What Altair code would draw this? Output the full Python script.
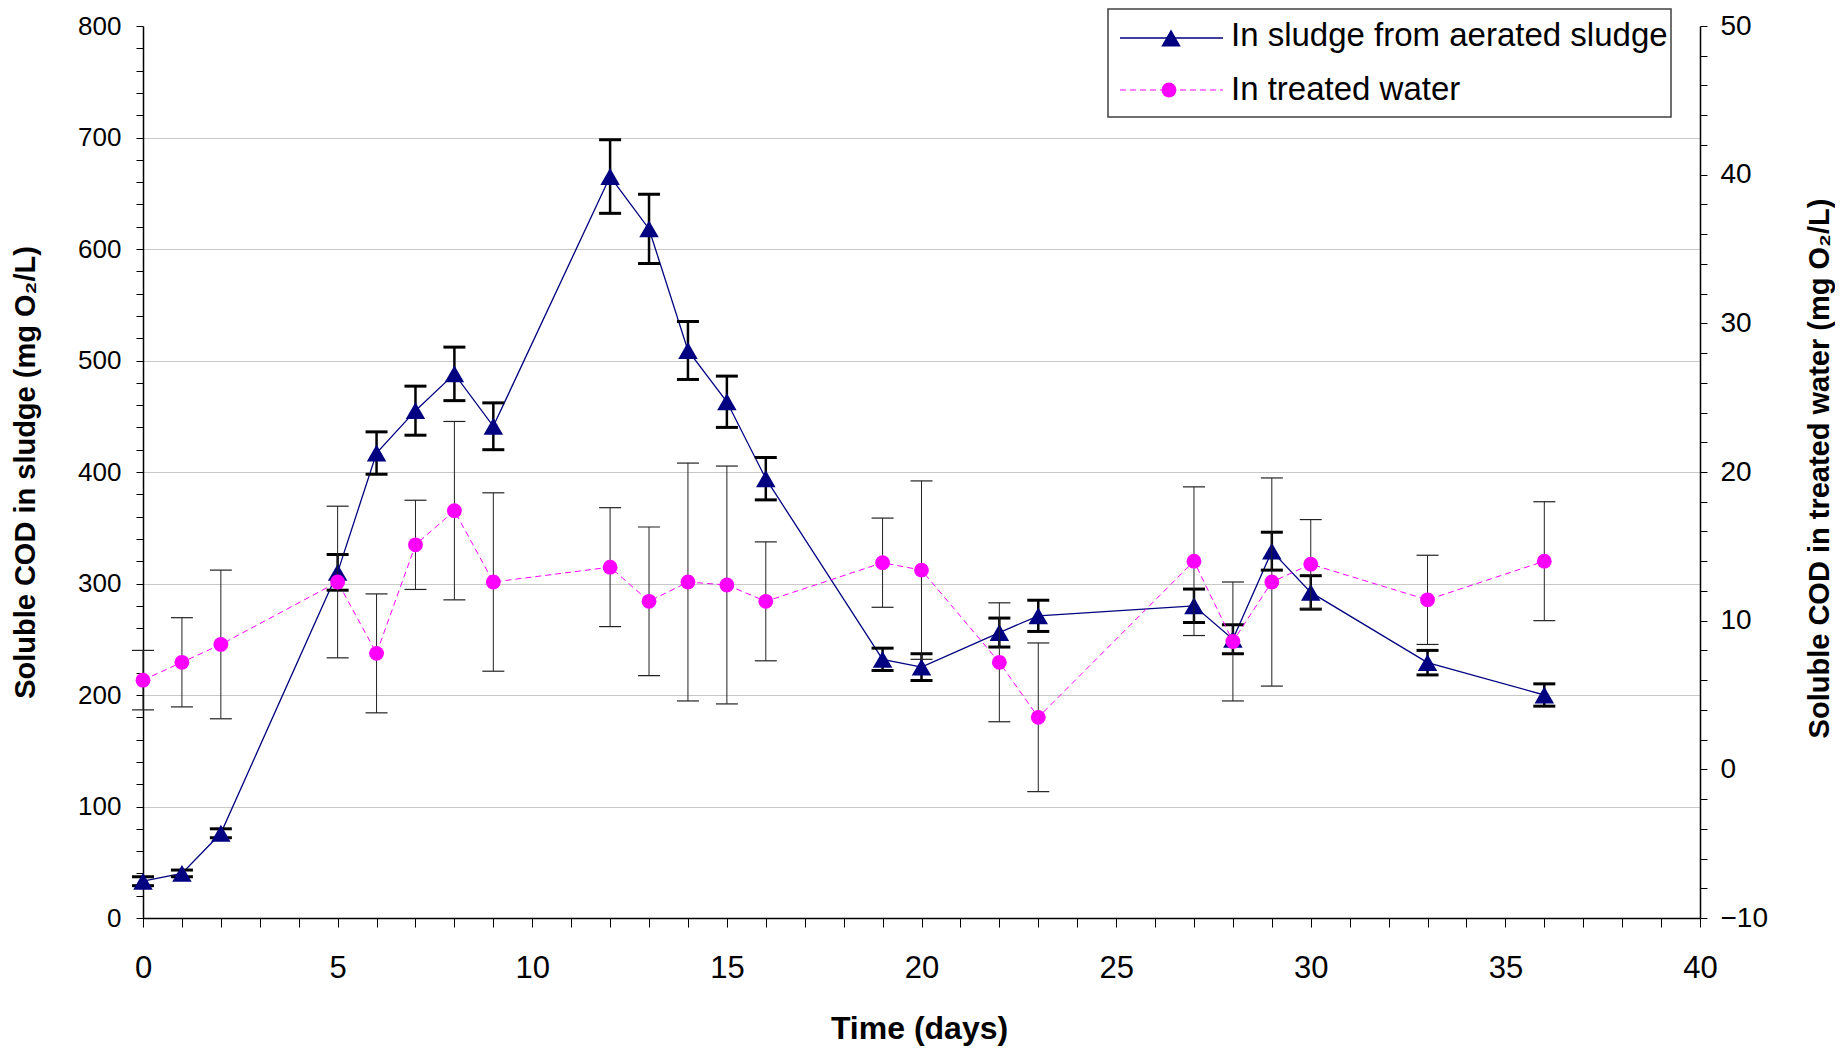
import altair as alt
import pandas as pd

# ---- data ----
days = [0, 1, 2, 5, 6, 7, 8, 9, 12, 13, 14, 15, 16, 19, 20, 22, 23, 27, 28, 29, 30, 33, 36]
sludge = [33, 40, 76, 310, 417, 455, 488, 441, 665, 618, 509, 463, 394, 232, 225, 256, 271, 280, 250, 329, 292, 229, 200]
sludge_err = [4, 3, 4, 16, 19, 22, 24, 21, 33, 31, 26, 23, 19, 10, 12, 13, 14, 15, 13, 17, 15, 11, 10]
water = [6.0, 7.2, 8.4, 12.6, 7.8, 15.1, 17.4, 12.6, 13.6, 11.3, 12.6, 12.4, 11.3, 13.9, 13.4, 7.2, 3.5, 14.0, 8.6, 12.6, 13.8, 11.4, 14.0]
water_err = [2.0, 3.0, 5.0, 5.1, 4.0, 3.0, 6.0, 6.0, 4.0, 5.0, 8.0, 8.0, 4.0, 3.0, 6.0, 4.0, 5.0, 5.0, 4.0, 7.0, 3.0, 3.0, 4.0]
legend_labels = ["In sludge from aerated sludge", "In treated water"]

df = pd.DataFrame({"day": days, "sludge": sludge, "sludge_err": sludge_err,
                   "water": water, "water_err": water_err})
df["s_lo"] = df["sludge"] - df["sludge_err"]
df["s_hi"] = df["sludge"] + df["sludge_err"]
df["w_lo"] = df["water"] - df["water_err"]
df["w_hi"] = df["water"] + df["water_err"]

FONT = "Liberation Sans"
NAVY = "#000080"
MAGENTA = "#FF00FF"

W, H = 1557, 892

x_axis = alt.Axis(
    values=list(range(0, 41)),
    labelExpr="datum.value % 5 === 0 ? datum.label : ''",
    labelOverlap=False, labelFlush=False,
    labelFont=FONT, labelFontSize=31, labelColor="black",
    labelBaseline="middle", labelPadding=41,
    tickSize=9, tickColor="black", tickWidth=1,
    domainColor="black", domainWidth=1.5,
    grid=False,
    title="Time (days)", titleFont=FONT, titleFontSize=32, titleFontWeight="bold",
    titleColor="black", titleX=776, titleY=110, titleBaseline="middle", titleAlign="center",
)
x_scale = alt.Scale(domain=[0, 40], nice=False)

left_axis = alt.Axis(
    values=list(range(0, 801, 20)),
    labelExpr="datum.value % 100 === 0 ? datum.label : ''",
    labelOverlap=False, labelFlush=False,
    labelFont=FONT, labelFontSize=26, labelColor="black", labelPadding=15,
    tickSize=7, tickColor="black", tickWidth=1,
    domainColor="black", domainWidth=1.5,
    grid=True, gridColor="#c8c8c8", gridWidth=1,
    gridOpacity={"condition": {"test": "datum.value % 100 === 0 && datum.value > 0 && datum.value < 800", "value": 1}, "value": 0},
    title="Soluble COD in sludge (mg O₂/L)", titleFont=FONT, titleFontSize=29,
    titleFontWeight="bold", titleColor="black", titleAngle=270,
    titleX=-118, titleY=446, titleAlign="center", titleBaseline="middle",
)
left_scale = alt.Scale(domain=[0, 800], nice=False, zero=False)

right_axis = alt.Axis(
    orient="right",
    values=list(range(-10, 51, 2)),
    labelExpr="datum.value % 10 === 0 ? datum.label : ''",
    labelOverlap=False, labelFlush=False,
    labelFont=FONT, labelFontSize=28, labelColor="black", labelPadding=13,
    tickSize=7, tickColor="black", tickWidth=1,
    domainColor="black", domainWidth=1.5,
    grid=False,
    title="Soluble COD in treated water (mg O₂/L)", titleFont=FONT, titleFontSize=29,
    titleFontWeight="bold", titleColor="black", titleAngle=270,
    titleX=119, titleY=442, titleAlign="center", titleBaseline="middle",
)
right_scale = alt.Scale(domain=[-10, 50], nice=False, zero=False)


def X():
    return alt.X("day:Q", scale=x_scale, axis=x_axis)


def YL(field):
    return alt.Y(field, type="quantitative", scale=left_scale, axis=left_axis)


def YR(field):
    return alt.Y(field, type="quantitative", scale=right_scale, axis=right_axis)


base = alt.Chart(df)

# ---- sludge series (left axis) ----
s_line = base.mark_line(color=NAVY, strokeWidth=1.3).encode(x=X(), y=YL("sludge"))
s_rule = base.mark_rule(color="black", strokeWidth=2.5).encode(x=X(), y=YL("s_lo"), y2="s_hi:Q")
s_cap_hi = base.mark_tick(orient="horizontal", color="black", size=22, thickness=3, opacity=1).encode(
    x=X(), y=YL("s_hi"))
s_cap_lo = base.mark_tick(orient="horizontal", color="black", size=22, thickness=3, opacity=1).encode(
    x=X(), y=YL("s_lo"))
s_pts = base.mark_point(shape="triangle-up", filled=True, color=NAVY, size=380, opacity=1).encode(
    x=X(), y=YL("sludge"))
left_layer = alt.layer(s_line, s_rule, s_cap_hi, s_cap_lo, s_pts)

# ---- treated water series (right axis) ----
w_rule = base.mark_rule(color="#222222", strokeWidth=1).encode(x=X(), y=YR("w_lo"), y2="w_hi:Q")
w_cap_hi = base.mark_tick(orient="horizontal", color="#222222", size=22, thickness=1.2, opacity=1).encode(
    x=X(), y=YR("w_hi"))
w_cap_lo = base.mark_tick(orient="horizontal", color="#222222", size=22, thickness=1.2, opacity=1).encode(
    x=X(), y=YR("w_lo"))
w_line = base.mark_line(color=MAGENTA, strokeWidth=1, strokeDash=[6, 4]).encode(x=X(), y=YR("water"))
w_pts = base.mark_point(shape="circle", filled=True, color=MAGENTA, size=220, opacity=1).encode(
    x=X(), y=YR("water"))
right_layer = alt.layer(w_rule, w_cap_hi, w_cap_lo, w_line, w_pts)

# ---- legend box ----
one = pd.DataFrame({"k": [0]})
lg = alt.Chart(one)
box = lg.mark_rect(fill="white", stroke="#404040", strokeWidth=1.5).encode(
    x=alt.value(965), x2=alt.value(1528), y=alt.value(-17), y2=alt.value(91))
l1 = lg.mark_rule(color=NAVY, strokeWidth=1.3).encode(
    x=alt.value(977), x2=alt.value(1080), y=alt.value(12))
p1 = lg.mark_point(shape="triangle-up", filled=True, color=NAVY, size=380, opacity=1).encode(
    x=alt.value(1028), y=alt.value(12))
t1 = lg.mark_text(text=legend_labels[0], align="left", baseline="alphabetic", font=FONT,
                  fontSize=33, color="black").encode(x=alt.value(1088), y=alt.value(20))
l2 = lg.mark_rule(color=MAGENTA, strokeWidth=1, strokeDash=[6, 4]).encode(
    x=alt.value(977), x2=alt.value(1080), y=alt.value(64))
p2 = lg.mark_point(shape="circle", filled=True, color=MAGENTA, size=220, opacity=1).encode(
    x=alt.value(1026), y=alt.value(64))
t2 = lg.mark_text(text=legend_labels[1], align="left", baseline="alphabetic", font=FONT,
                  fontSize=33, color="black").encode(x=alt.value(1088), y=alt.value(74))
legend_layer = alt.layer(box, l1, p1, t1, l2, p2, t2)

chart = alt.layer(left_layer, right_layer, legend_layer).resolve_scale(
    y="independent"
).properties(
    width=W, height=H,
    autosize=alt.AutoSizeParams(type="none"),
    padding={"left": 135, "top": 18, "right": 135, "bottom": 129},
    background="white",
).configure_view(stroke=None)

chart.save("out.html", embed_options={"renderer": "svg", "actions": False})
